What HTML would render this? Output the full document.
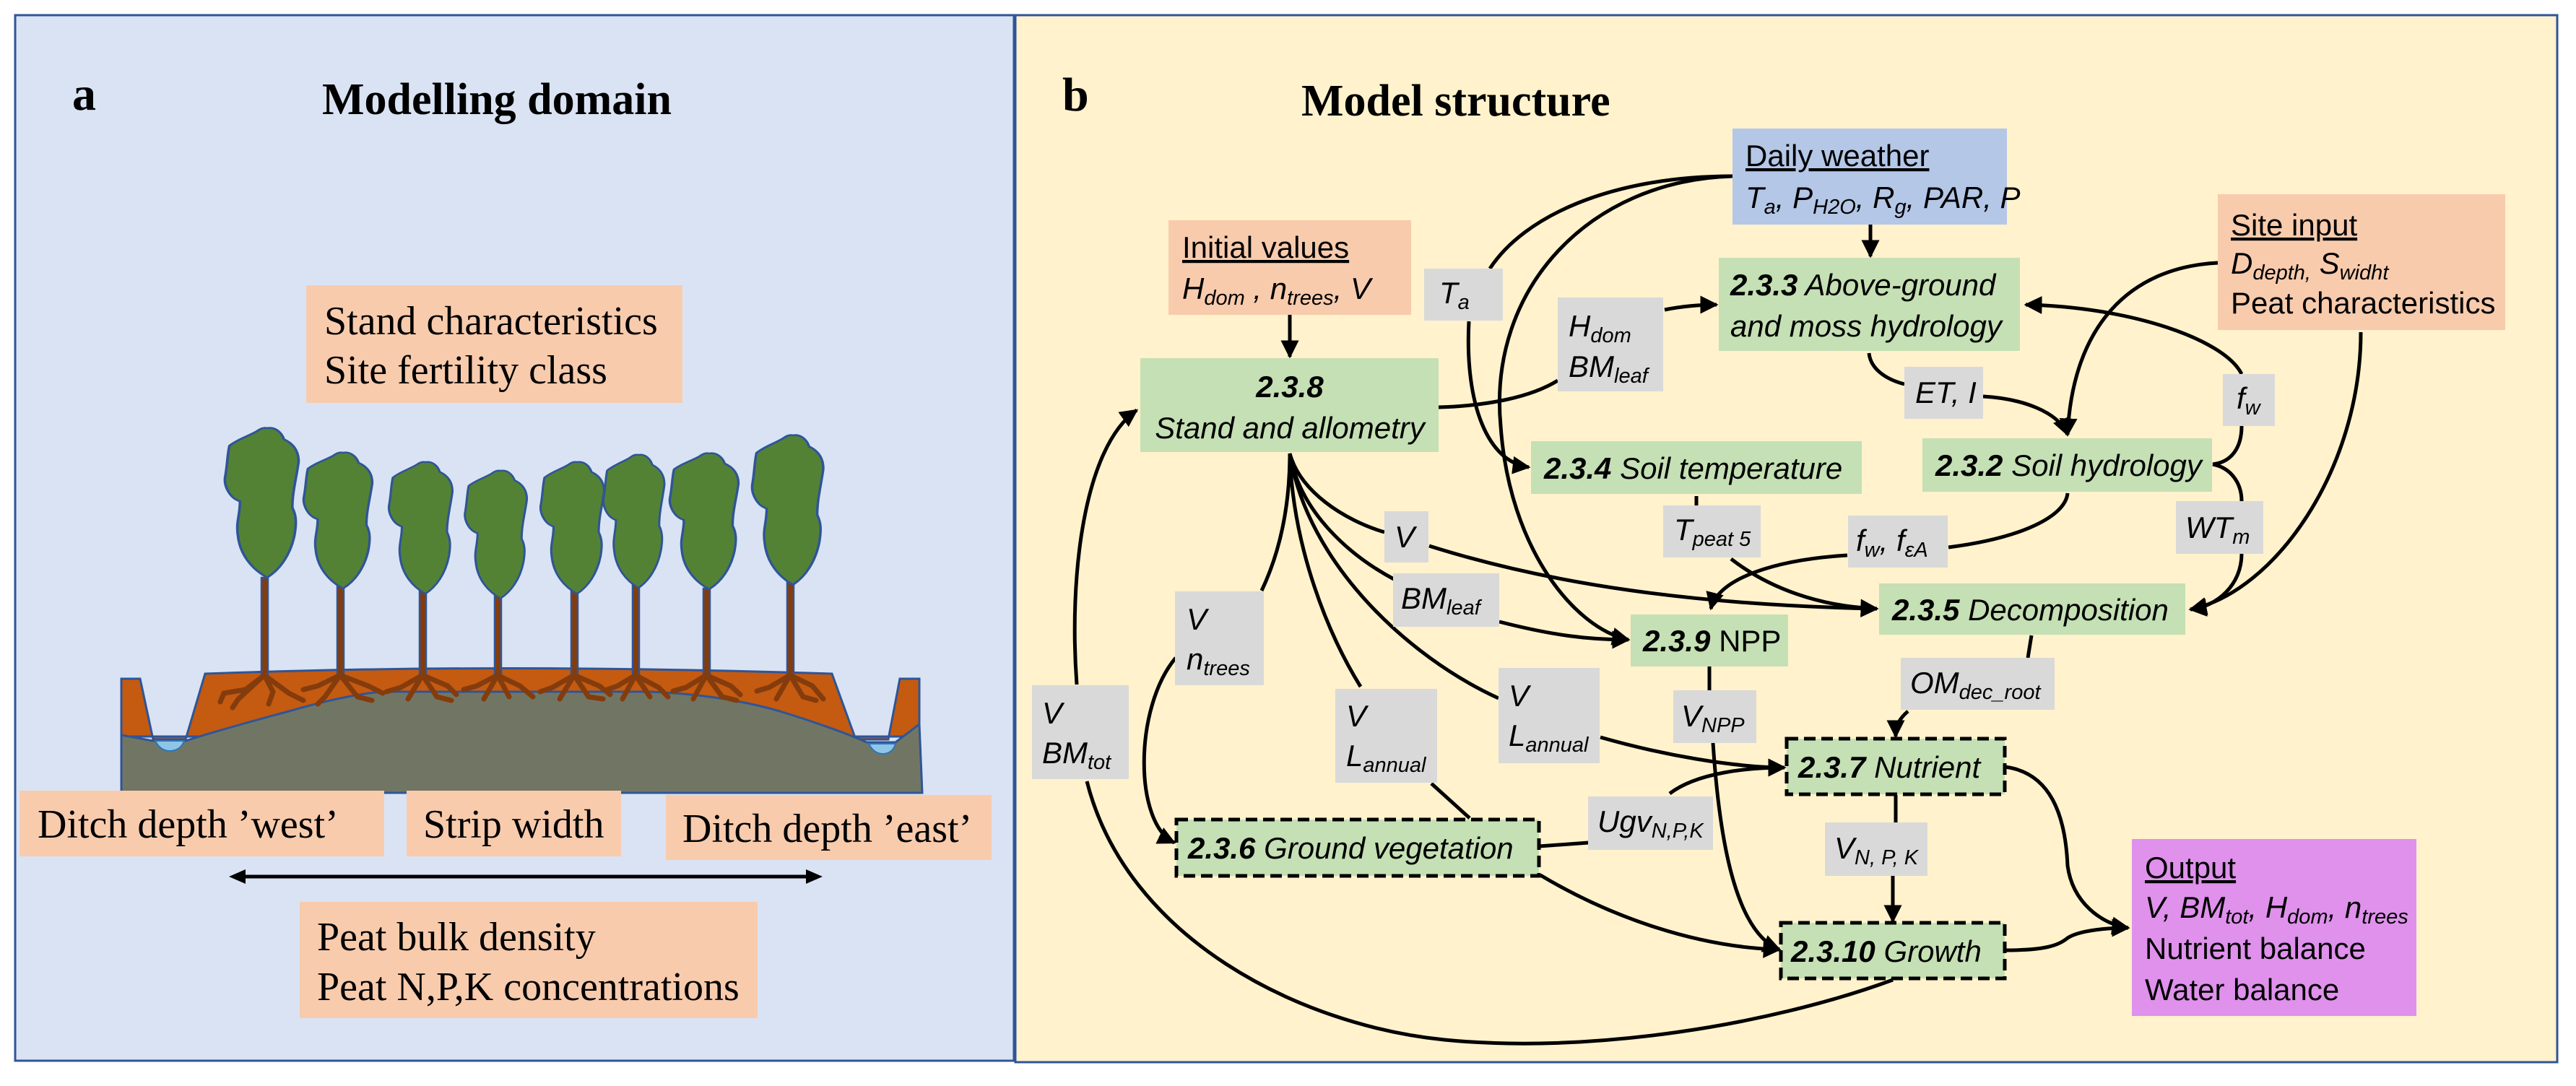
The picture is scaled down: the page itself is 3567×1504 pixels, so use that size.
<!DOCTYPE html>
<html><head><meta charset="utf-8"><style>
html,body{margin:0;padding:0;background:#fff;}
svg{display:block;}
.t{font-family:"Liberation Sans",sans-serif;font-size:42px;fill:#000;}
.s{font-family:"Liberation Serif",serif;font-size:56px;fill:#000;}
.i{font-style:italic;}
.b{font-weight:bold;}
.sub{font-size:29px;}
</style></head><body>
<svg width="3567" height="1504" viewBox="0 0 3567 1504" xmlns="http://www.w3.org/2000/svg">
<defs>
<marker id="ar" viewBox="0 0 10 10" refX="9" refY="5" markerWidth="5" markerHeight="5" markerUnits="strokeWidth" orient="auto"><path d="M0,0 L10,5 L0,10 z" fill="#000"/></marker>
<path id="crown" d="M0,0 C8,-2 14,6 16,14 C26,20 30,30 30,42 C28,62 24,80 24,100 C28,110 28,120 26,135 C22,160 12,178 0,188 C-14,178 -26,160 -28,135 C-30,118 -26,110 -26,92 C-36,88 -42,72 -40,60 C-38,46 -38,32 -36,22 C-28,14 -18,10 -10,4 C-6,0 -3,-1 0,0 Z"/>
</defs>

<!-- Panel a -->
<rect x="21" y="21" width="1383" height="1448" fill="#dae3f3" stroke="#2f5597" stroke-width="3"/>
<text x="100" y="152" class="s b" style="font-size:66px">a</text>
<text x="446" y="158" class="s b" style="font-size:62px">Modelling domain</text>
<rect x="424" y="395" width="521" height="163" fill="#f8cbad"/>
<text x="449" y="463" class="s">Stand characteristics</text>
<text x="449" y="531" class="s">Site fertility class</text>

<!-- ground -->
<path d="M168,940 L194,940 L212,1024 L257,1024 L284,933 Q690,918 1152,933 L1185,1024 L1230,1024 L1246,940 L1273,940 L1273,1020 L168,1020 Z" fill="#c55a11" stroke="#2f5597" stroke-width="3"/>
<path d="M168,1018 L212,1026 L257,1026 Q300,1012 400,985 Q480,962 529,958 L900,958 Q1000,962 1080,985 Q1160,1010 1200,1028 L1240,1028 L1273,1003 L1277,1098 L168,1098 Z" fill="#717664" stroke="#2f5597" stroke-width="3"/>
<path d="M215,1026 Q222,1040 235,1040 Q250,1040 255,1026 Z" fill="#8fc6e6" stroke="#2e75b6" stroke-width="2"/>
<path d="M1203,1030 Q1210,1044 1222,1044 Q1236,1044 1240,1030 Z" fill="#8fc6e6" stroke="#2e75b6" stroke-width="2"/>

<!-- trees -->
<g stroke="#2f5597" stroke-width="2.5">
<g fill="#843c0c">
<rect x="362" y="800" width="9" height="138"/>
<rect x="467" y="812" width="9" height="126"/>
<rect x="581" y="818" width="9" height="120"/>
<rect x="685" y="822" width="9" height="116"/>
<rect x="791" y="818" width="9" height="120"/>
<rect x="876" y="810" width="9" height="128"/>
<rect x="974" y="815" width="9" height="123"/>
<rect x="1090" y="806" width="9" height="132"/>
</g>
<g fill="#548235">
<use href="#crown" transform="translate(370,593) scale(1.45,1.1)"/>
<use href="#crown" transform="translate(475,627) scale(1.35,1.0)"/>
<use href="#crown" transform="translate(589,640) scale(1.25,0.97)"/>
<use href="#crown" transform="translate(693,652) scale(1.22,0.94)"/>
<use href="#crown" transform="translate(799,640) scale(1.25,0.97)"/>
<use href="#crown" transform="translate(884,630) scale(1.2,0.98)"/>
<use href="#crown" transform="translate(982,628) scale(1.35,1.0)"/>
<use href="#crown" transform="translate(1098,603) scale(1.4,1.1)"/>
</g>
</g>
<!-- roots -->
<g fill="none" stroke="#843c0c" stroke-width="7" stroke-linecap="round">
<path d="M366,935 L340,955 L310,960 L305,972 M366,935 L330,968 L322,980 M366,935 L400,960 L420,970 M366,935 L378,958 L372,975"/>
<path d="M471,935 L440,950 L420,955 M471,935 L450,965 L440,975 M471,935 L510,950 L530,960 M471,935 L495,965 L515,970"/>
<path d="M585,935 L555,952 L535,958 M585,935 L565,968 M585,935 L620,950 L632,962 M585,935 L605,965 L625,970"/>
<path d="M689,935 L660,950 L642,955 M689,935 L670,968 M689,935 L720,950 L738,965 M689,935 L705,965"/>
<path d="M795,935 L765,952 L748,958 M795,935 L775,968 M795,935 L830,950 L845,962 M795,935 L815,965 L835,968"/>
<path d="M880,935 L855,950 L838,956 M880,935 L862,968 M880,935 L912,952 L925,965 M880,935 L900,965"/>
<path d="M978,935 L950,952 L932,957 M978,935 L960,968 M978,935 L1012,950 L1025,962 M978,935 L1000,965 L1020,970"/>
<path d="M1094,935 L1065,952 L1048,957 M1094,935 L1075,968 M1094,935 L1125,950 L1140,968 M1094,935 L1112,965 L1130,970"/>
</g>

<rect x="27" y="1095" width="505" height="91" fill="#f8cbad"/>
<text x="52" y="1160" class="s">Ditch depth ’west’</text>
<rect x="563" y="1095" width="297" height="91" fill="#f8cbad"/>
<text x="586" y="1160" class="s">Strip width</text>
<rect x="922" y="1101" width="451" height="90" fill="#f8cbad"/>
<text x="945" y="1166" class="s">Ditch depth ’east’</text>
<line x1="330" y1="1214" x2="1126" y2="1214" stroke="#000" stroke-width="5"/>
<path d="M317,1214 L340,1204 L340,1224 Z M1139,1214 L1116,1204 L1116,1224 Z" fill="#000"/>
<rect x="415" y="1249" width="634" height="161" fill="#f8cbad"/>
<text x="439" y="1316" class="s">Peat bulk density</text>
<text x="439" y="1385" class="s">Peat N,P,K concentrations</text>

<!-- Panel b -->
<rect x="1406" y="21" width="2135" height="1450" fill="#fff2cc" stroke="#2f5597" stroke-width="3"/>
<text x="1471" y="153" class="s b" style="font-size:66px">b</text>
<text x="1802" y="160" class="s b" style="font-size:62px">Model structure</text>

<!-- connectors -->
<g fill="none" stroke="#000" stroke-width="5">
<path d="M1786,436 L1786,494" marker-end="url(#ar)"/>
<path d="M2590,311 L2590,355" marker-end="url(#ar)"/>
<path d="M2399,244 C2230,244 2110,300 2063,372"/>
<path d="M2399,244 C2200,250 2060,400 2078,590 C2090,760 2180,870 2255,886" marker-end="url(#ar)"/>
<path d="M2034,445 C2028,560 2060,640 2117,647" marker-end="url(#ar)"/>
<path d="M1992,564 C2060,562 2120,550 2157,527"/>
<path d="M2305,429 C2330,424 2355,422 2377,422" marker-end="url(#ar)"/>
<path d="M2588,489 C2590,510 2610,525 2637,532"/>
<path d="M2746,549 C2800,552 2850,570 2863,602" marker-end="url(#ar)"/>
<path d="M2349,687 L2349,700"/>
<path d="M2397,774 C2450,815 2520,840 2599,843" marker-end="url(#ar)"/>
<path d="M1979,756 C2150,810 2350,838 2599,843" marker-end="url(#ar)"/>
<path d="M2558,769 C2460,775 2380,800 2369,843" marker-end="url(#ar)"/>
<path d="M2698,758 C2800,745 2860,715 2863,683"/>
<path d="M2076,861 C2150,880 2200,886 2255,886" marker-end="url(#ar)"/>
<path d="M2367,923 L2367,956"/>
<path d="M1786,628 C1786,720 1765,780 1747,818"/>
<path d="M1786,628 C1790,760 1840,880 1884,951"/>
<path d="M1786,628 C1800,710 1870,770 1930,802"/>
<path d="M1786,628 C1800,680 1860,720 1917,737"/>
<path d="M1786,628 C1810,780 1950,910 2075,967"/>
<path d="M1491,948 C1480,800 1500,620 1574,568" marker-end="url(#ar)"/>
<path d="M1505,1082 C1560,1300 1800,1420 2000,1440 C2200,1460 2450,1420 2621,1357"/>
<path d="M1628,911 C1570,980 1570,1140 1626,1167" marker-end="url(#ar)"/>
<path d="M1982,1085 L2035,1133"/>
<path d="M2131,1172 L2200,1167"/>
<path d="M2312,1099 C2350,1070 2420,1063 2471,1063" marker-end="url(#ar)"/>
<path d="M2216,1021 C2300,1045 2400,1063 2471,1063" marker-end="url(#ar)"/>
<path d="M2372,1029 C2380,1150 2400,1290 2464,1315" marker-end="url(#ar)"/>
<path d="M2133,1212 C2230,1270 2350,1312 2464,1315" marker-end="url(#ar)"/>
<path d="M2625,1101 L2625,1139"/>
<path d="M2621,1213 L2621,1276" marker-end="url(#ar)"/>
<path d="M2776,1062 C2840,1070 2860,1130 2863,1199 C2870,1250 2910,1280 2947,1285" marker-end="url(#ar)"/>
<path d="M2776,1316 C2830,1316 2850,1310 2863,1299 C2880,1288 2920,1285 2947,1285" marker-end="url(#ar)"/>
<path d="M3071,364 C2950,370 2870,450 2863,602" marker-end="url(#ar)"/>
<path d="M3269,460 C3269,650 3150,820 3033,844" marker-end="url(#ar)"/>
<path d="M3064,643 C3090,640 3104,620 3104,590"/>
<path d="M3064,643 C3090,648 3104,670 3104,694"/>
<path d="M3104,518 C3080,470 2950,425 2805,422" marker-end="url(#ar)"/>
<path d="M3104,767 C3104,810 3070,840 3033,844" marker-end="url(#ar)"/>
<path d="M2813,880 L2808,911"/>
<path d="M2642,985 C2630,995 2625,1005 2625,1020" marker-end="url(#ar)"/>
</g>

<!-- input/output boxes -->
<rect x="2399" y="178" width="380" height="133" fill="#b4c7e7"/>
<text x="2417" y="230" class="t" text-decoration="underline">Daily weather</text>
<text x="2417" y="288" class="t i">T<tspan class="sub" dy="8">a</tspan><tspan dy="-8">, P</tspan><tspan class="sub" dy="8">H2O</tspan><tspan dy="-8">, R</tspan><tspan class="sub" dy="8">g</tspan><tspan dy="-8">, PAR, P</tspan></text>

<rect x="1618" y="305" width="336" height="131" fill="#f8cbad"/>
<text x="1637" y="357" class="t" text-decoration="underline">Initial values</text>
<text x="1637" y="414" class="t i">H<tspan class="sub" dy="8">dom</tspan><tspan dy="-8"> , n</tspan><tspan class="sub" dy="8">trees</tspan><tspan dy="-8">, V</tspan></text>

<rect x="3071" y="269" width="398" height="188" fill="#f8cbad"/>
<text x="3089" y="326" class="t" text-decoration="underline">Site input</text>
<text x="3089" y="379" class="t i">D<tspan class="sub" dy="8">depth,</tspan><tspan dy="-8"> S</tspan><tspan class="sub" dy="8">widht</tspan></text>
<text x="3089" y="434" class="t">Peat characteristics</text>

<rect x="2952" y="1162" width="394" height="245" fill="#df91ec"/>
<text x="2970" y="1216" class="t" text-decoration="underline">Output</text>
<text x="2970" y="1271" class="t i">V, BM<tspan class="sub" dy="8">tot</tspan><tspan dy="-8">, H</tspan><tspan class="sub" dy="8">dom</tspan><tspan dy="-8">, n</tspan><tspan class="sub" dy="8">trees</tspan></text>
<text x="2970" y="1328" class="t">Nutrient balance</text>
<text x="2970" y="1385" class="t">Water balance</text>

<!-- model boxes -->
<g fill="#c5e0b4">
<rect x="1579" y="496" width="413" height="130"/>
<rect x="2380" y="357" width="417" height="129"/>
<rect x="2120" y="611" width="458" height="73"/>
<rect x="2662" y="607" width="401" height="74"/>
<rect x="2602" y="808" width="424" height="71"/>
<rect x="2258" y="851" width="218" height="72"/>
</g>
<g fill="#c5e0b4" stroke="#000" stroke-width="5" stroke-dasharray="16,8">
<rect x="1629" y="1135" width="502" height="78"/>
<rect x="2474" y="1023" width="302" height="77"/>
<rect x="2466" y="1278" width="310" height="77"/>
</g>
<text x="1786" y="550" class="t i b" text-anchor="middle">2.3.8</text>
<text x="1786" y="607" class="t i" text-anchor="middle">Stand and allometry</text>
<text x="2396" y="409" class="t i"><tspan class="b">2.3.3</tspan> Above-ground</text>
<text x="2396" y="466" class="t i">and moss hydrology</text>
<text x="2138" y="663" class="t i"><tspan class="b">2.3.4</tspan> Soil temperature</text>
<text x="2680" y="659" class="t i"><tspan class="b">2.3.2</tspan> Soil hydrology</text>
<text x="2620" y="859" class="t i"><tspan class="b">2.3.5</tspan> Decomposition</text>
<text x="2275" y="902" class="t"><tspan class="i b">2.3.9</tspan> NPP</text>
<text x="1645" y="1189" class="t i"><tspan class="b">2.3.6</tspan> Ground vegetation</text>
<text x="2490" y="1077" class="t i"><tspan class="b">2.3.7</tspan> Nutrient</text>
<text x="2480" y="1332" class="t i"><tspan class="b">2.3.10</tspan> Growth</text>

<!-- labels -->
<g fill="#d9d9d9">
<rect x="1972" y="372" width="109" height="72"/>
<rect x="2157" y="412" width="146" height="130"/>
<rect x="2303" y="700" width="135" height="72"/>
<rect x="2637" y="508" width="109" height="72"/>
<rect x="3078" y="518" width="72" height="72"/>
<rect x="3013" y="694" width="121" height="73"/>
<rect x="2559" y="714" width="138" height="72"/>
<rect x="2632" y="911" width="213" height="72"/>
<rect x="2527" y="1139" width="142" height="74"/>
<rect x="1917" y="708" width="61" height="71"/>
<rect x="1929" y="794" width="147" height="74"/>
<rect x="1627" y="819" width="123" height="130"/>
<rect x="1429" y="949" width="134" height="130"/>
<rect x="1849" y="954" width="141" height="130"/>
<rect x="2075" y="925" width="140" height="132"/>
<rect x="2317" y="956" width="115" height="73"/>
<rect x="2199" y="1103" width="173" height="74"/>
</g>
<text x="1993" y="420" class="t i">T<tspan class="sub" dy="8">a</tspan></text>
<text x="2172" y="466" class="t i">H<tspan class="sub" dy="8">dom</tspan></text>
<text x="2172" y="522" class="t i">BM<tspan class="sub" dy="8">leaf</tspan></text>
<text x="2318" y="748" class="t i">T<tspan class="sub" dy="8">peat 5</tspan></text>
<text x="2652" y="558" class="t i">ET, I</text>
<text x="3097" y="566" class="t i">f<tspan class="sub" dy="8">w</tspan></text>
<text x="3026" y="745" class="t i">WT<tspan class="sub" dy="8">m</tspan></text>
<text x="2570" y="763" class="t i">f<tspan class="sub" dy="8">w</tspan><tspan dy="-8">, f</tspan><tspan class="sub" dy="8">εA</tspan></text>
<text x="2645" y="960" class="t i">OM<tspan class="sub" dy="8">dec_root</tspan></text>
<text x="2540" y="1189" class="t i">V<tspan class="sub" dy="8">N, P, K</tspan></text>
<text x="1931" y="758" class="t i">V</text>
<text x="1940" y="843" class="t i">BM<tspan class="sub" dy="8">leaf</tspan></text>
<text x="1643" y="872" class="t i">V</text>
<text x="1643" y="927" class="t i">n<tspan class="sub" dy="8">trees</tspan></text>
<text x="1443" y="1002" class="t i">V</text>
<text x="1443" y="1057" class="t i">BM<tspan class="sub" dy="8">tot</tspan></text>
<text x="1864" y="1006" class="t i">V</text>
<text x="1864" y="1061" class="t i">L<tspan class="sub" dy="8">annual</tspan></text>
<text x="2089" y="978" class="t i">V</text>
<text x="2089" y="1033" class="t i">L<tspan class="sub" dy="8">annual</tspan></text>
<text x="2328" y="1006" class="t i">V<tspan class="sub" dy="8">NPP</tspan></text>
<text x="2212" y="1152" class="t i">Ugv<tspan class="sub" dy="8">N,P,K</tspan></text>
</svg>
</body></html>
